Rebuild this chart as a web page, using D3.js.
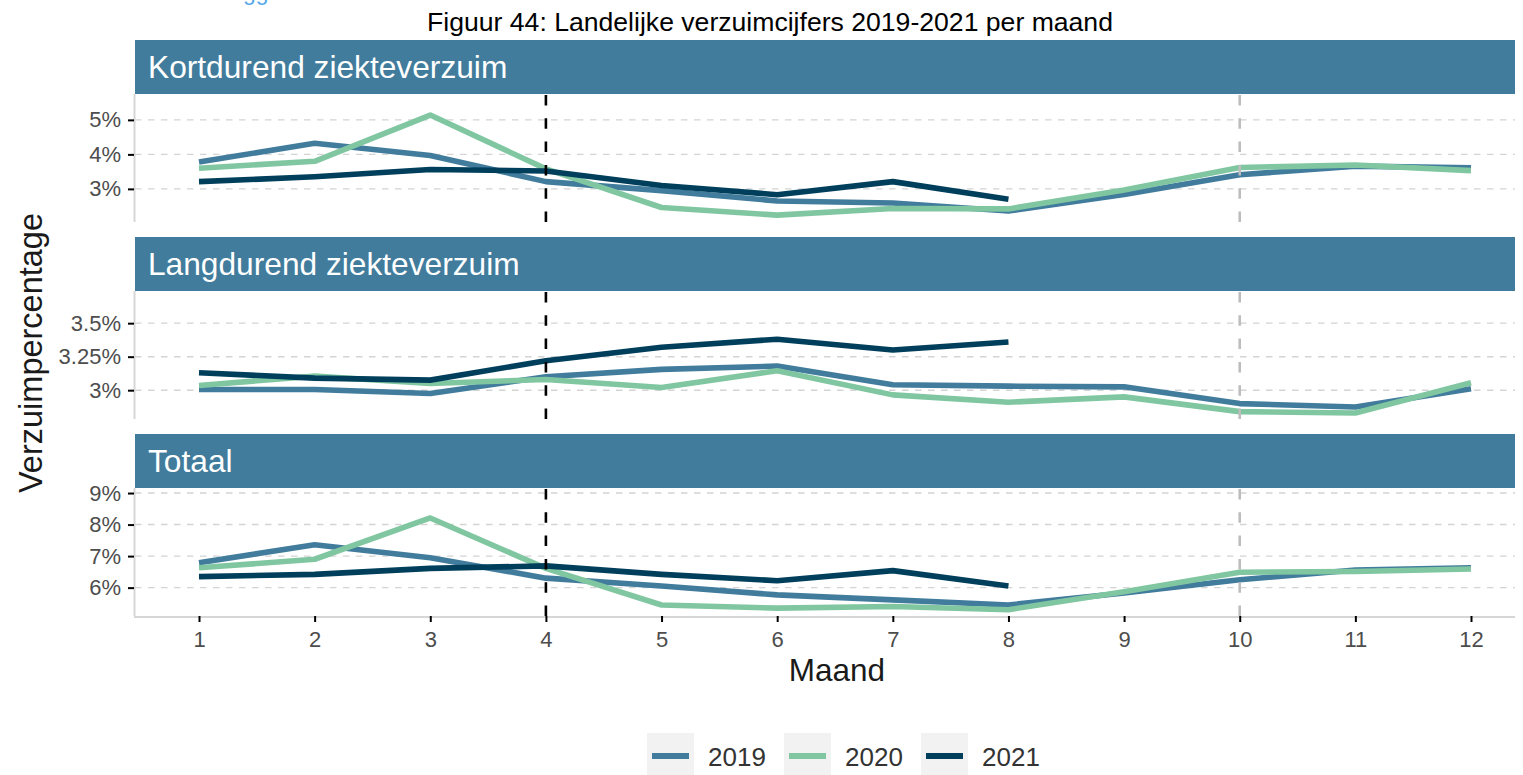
<!DOCTYPE html>
<html>
<head>
<meta charset="utf-8">
<script src="https://cdn.jsdelivr.net/npm/d3@7"></script>
<style>
  body { margin: 0; background: #fff; }
  svg { display: block; font-family: "Liberation Sans", Arial, sans-serif; }
</style>
</head>
<body>
<svg id="chart" width="1523" height="775"></svg>
<script>
// Monthly sickness absence percentages, 2019-2021
const months = [1, 2, 3, 4, 5, 6, 7, 8, 9, 10, 11, 12];
const years = ["2019", "2020", "2021"];

const kort2019 = [3.78, 4.32, 3.97, 3.21, 2.95, 2.65, 2.59, 2.36, 2.84, 3.41, 3.66, 3.61];
const kort2020 = [3.60, 3.80, 5.14, 3.58, 2.46, 2.24, 2.43, 2.42, 2.97, 3.62, 3.69, 3.53];
const kort2021 = [3.21, 3.35, 3.56, 3.52, 3.10, 2.83, 3.21, 2.70];

const lang2019 = [3.005, 3.005, 2.975, 3.10, 3.155, 3.18, 3.04, 3.03, 3.025, 2.90, 2.875, 3.01];
const lang2020 = [3.035, 3.105, 3.05, 3.08, 3.02, 3.145, 2.965, 2.91, 2.95, 2.84, 2.83, 3.055];
const lang2021 = [3.13, 3.09, 3.075, 3.22, 3.32, 3.38, 3.30, 3.36];

const tot2019 = [6.79, 7.36, 6.95, 6.30, 6.05, 5.77, 5.61, 5.45, 5.83, 6.25, 6.56, 6.63];
const tot2020 = [6.63, 6.90, 8.21, 6.61, 5.45, 5.35, 5.40, 5.30, 5.87, 6.49, 6.51, 6.59];
const tot2021 = [6.35, 6.42, 6.61, 6.69, 6.42, 6.22, 6.54, 6.05];

const facetTitles = ["Kortdurend ziekteverzuim", "Langdurend ziekteverzuim", "Totaal"];

const kortTicks = [3, 4, 5];
const kortTickLabels = ["3%", "4%", "5%"];
const langTicks = [3, 3.25, 3.5];
const langTickLabels = ["3%", "3.25%", "3.5%"];
const totTicks = [6, 7, 8, 9];
const totTickLabels = ["6%", "7%", "8%", "9%"];

const markerMonths = [4, 10];

const chartTitle = "Figuur 44: Landelijke verzuimcijfers 2019-2021 per maand";
const xTitle = "Maand";
const yTitle = "Verzuimpercentage";

// ---- styling & layout ----
const stripColor = "#417c9c";
const yearColors = ["#417c9c", "#80c7a1", "#003f5c"];
const markerColors = ["#000000", "#bdbdbd"];

const plotL = 135, plotR = 1515;
const top0 = 40, stripH = 54, panelH = 128, gap = 15;

const svg = d3.select("#chart");

const x = d3.scaleLinear().domain([1, 12]).range([199, 1471]);

const facets = [
  { title: facetTitles[0], series: [kort2019, kort2020, kort2021], ticks: kortTicks, labels: kortTickLabels, domain: [2.04, 5.75] },
  { title: facetTitles[1], series: [lang2019, lang2020, lang2021], ticks: langTicks, labels: langTickLabels, domain: [2.785, 3.74] },
  { title: facetTitles[2], series: [tot2019, tot2020, tot2021], ticks: totTicks, labels: totTickLabels, domain: [5.10, 9.16] }
];

// heading above the figure, only its lowest part falls inside the page
svg.append("text")
  .attr("x", 243).attr("y", 0)
  .attr("font-size", 23).attr("fill", "#55a8e8")
  .text("gg");

svg.append("text")
  .attr("x", 770).attr("y", 31)
  .attr("text-anchor", "middle")
  .attr("font-size", 26.6).attr("fill", "#000")
  .text(chartTitle);

facets.forEach((f, fi) => {
  const sTop = top0 + fi * (stripH + panelH + gap);
  const pTop = sTop + stripH, pBot = pTop + panelH;
  const y = d3.scaleLinear().domain(f.domain).range([pBot, pTop]);

  // strip
  svg.append("rect")
    .attr("x", plotL).attr("y", sTop)
    .attr("width", plotR - plotL).attr("height", stripH)
    .attr("fill", stripColor);
  svg.append("text")
    .attr("x", 148).attr("y", sTop + stripH / 2)
    .attr("dy", "0.36em")
    .attr("font-size", 31.7).attr("fill", "#fff")
    .text(f.title);

  // horizontal gridlines
  svg.append("g").selectAll("line").data(f.ticks).join("line")
    .attr("x1", plotL).attr("x2", plotR)
    .attr("y1", d => y(d)).attr("y2", d => y(d))
    .attr("stroke", "#d4d4d4").attr("stroke-width", 1.4)
    .attr("stroke-dasharray", "6.5,6.5");

  // yearly series
  const lineY = d3.line().x((d, i) => x(months[i])).y(d => y(d));
  svg.append("g").selectAll("path").data(f.series).join("path")
    .attr("d", d => lineY(d))
    .attr("fill", "none")
    .attr("stroke", (d, i) => yearColors[i])
    .attr("stroke-width", 5.6)
    .attr("stroke-linejoin", "round")
    .attr("stroke-linecap", "butt");

  // reference months
  svg.append("g").selectAll("line").data(markerMonths).join("line")
    .attr("x1", d => x(d)).attr("x2", d => x(d))
    .attr("y1", pBot).attr("y2", pTop)
    .attr("stroke", (d, i) => markerColors[i])
    .attr("stroke-width", 2.6)
    .attr("stroke-dasharray", "10.5,12.8");

  // y axis
  svg.append("line")
    .attr("x1", plotL - 0.5).attr("x2", plotL - 0.5)
    .attr("y1", pTop).attr("y2", pBot)
    .attr("stroke", "#d6d6d6").attr("stroke-width", 2);
  const yAxis = svg.append("g")
    .attr("transform", `translate(${plotL - 1},0)`)
    .call(d3.axisLeft(y).tickValues(f.ticks)
      .tickFormat((d, i) => f.labels[i]).tickSize(6).tickPadding(7));
  yAxis.select(".domain").remove();
  yAxis.selectAll(".tick line").attr("stroke", "#000").attr("stroke-width", 2);
  yAxis.selectAll(".tick text")
    .attr("font-size", 22).attr("fill", "#4d4d4d")
    .attr("font-family", "Liberation Sans, Arial, sans-serif");

  // x axis on the bottom panel
  if (fi === facets.length - 1) {
    svg.append("line")
      .attr("x1", plotL - 1).attr("x2", plotR)
      .attr("y1", pBot + 1).attr("y2", pBot + 1)
      .attr("stroke", "#d6d6d6").attr("stroke-width", 2);
    const xAxis = svg.append("g")
      .attr("transform", `translate(0,${pBot})`)
      .call(d3.axisBottom(x).tickValues(months).tickFormat(d3.format("d"))
        .tickSize(6).tickPadding(9));
    xAxis.select(".domain").remove();
    xAxis.selectAll(".tick line").attr("stroke", "#000").attr("stroke-width", 2);
    xAxis.selectAll(".tick text")
      .attr("font-size", 22).attr("fill", "#4d4d4d")
      .attr("font-family", "Liberation Sans, Arial, sans-serif");
  }
});

// axis titles
svg.append("text")
  .attr("x", 837).attr("y", 681)
  .attr("text-anchor", "middle")
  .attr("font-size", 31.5).attr("fill", "#1a1a1a")
  .text(xTitle);
svg.append("text")
  .attr("transform", "translate(42,353) rotate(-90)")
  .attr("text-anchor", "middle")
  .attr("font-size", 32.5).attr("fill", "#1a1a1a")
  .text(yTitle);

// legend
const legendX = [647, 784, 921];
const legend = svg.append("g").selectAll("g").data(years).join("g")
  .attr("transform", (d, i) => `translate(${legendX[i]},733)`);
legend.append("rect")
  .attr("width", 47).attr("height", 42).attr("fill", "#f2f2f2");
legend.append("line")
  .attr("x1", 5).attr("x2", 42).attr("y1", 23).attr("y2", 23)
  .attr("stroke", (d, i) => yearColors[i]).attr("stroke-width", 6);
legend.append("text")
  .attr("x", 61).attr("y", 33)
  .attr("font-size", 26).attr("fill", "#333")
  .text(d => d);
</script>
</body>
</html>
